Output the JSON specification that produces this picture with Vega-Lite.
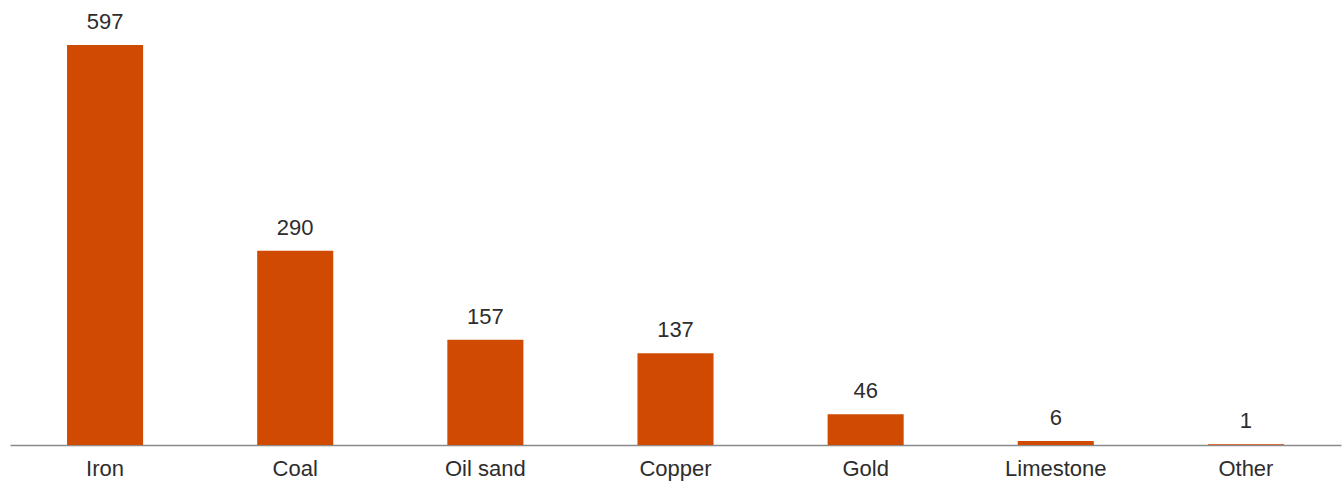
{
  "$schema": "https://vega.github.io/schema/vega-lite/v6.json",
  "autosize": "none",
  "width": 1331,
  "height": 445,
  "padding": {"left": 10, "top": 0, "right": 3, "bottom": 39},
  "background": "white",
  "config": {"view": {"stroke": null}, "font": "Liberation Sans"},
  "data": {"values": [
    {"mineral": "Iron", "value": 597},
    {"mineral": "Coal", "value": 290},
    {"mineral": "Oil sand", "value": 157},
    {"mineral": "Copper", "value": 137},
    {"mineral": "Gold", "value": 46},
    {"mineral": "Limestone", "value": 6},
    {"mineral": "Other", "value": 1}
  ]},
  "encoding": {
    "x": {"field": "mineral", "type": "nominal", "sort": null,
      "scale": {"paddingInner": 0.6, "paddingOuter": 0.3},
      "axis": {"title": null, "labelAngle": 0, "ticks": false, "domainColor": "#8a8a8a", "domainWidth": 1.5,
        "labelFontSize": 22, "labelColor": "#2d2d2d", "labelPadding": 13, "labelFont": "Liberation Sans"}},
    "y": {"field": "value", "type": "quantitative", "scale": {"domain": [0, 664]}, "axis": null}
  },
  "layer": [
    {"mark": {"type": "bar", "color": "#d04a02"}},
    {"mark": {"type": "text", "baseline": "bottom", "dy": -11, "fontSize": 22, "color": "#2d2d2d"},
     "encoding": {"text": {"field": "value", "type": "quantitative"}}}
  ]
}
